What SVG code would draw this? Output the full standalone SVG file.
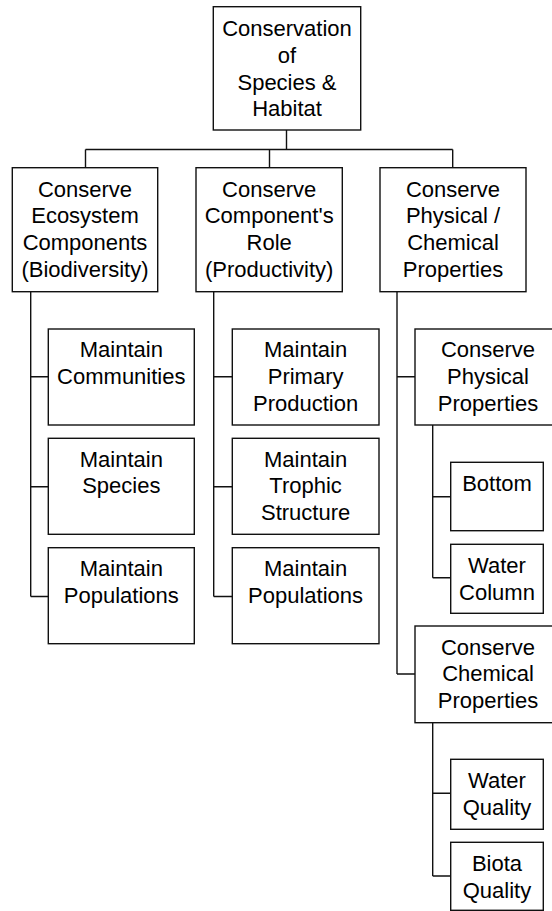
<svg xmlns="http://www.w3.org/2000/svg" width="552" height="911" viewBox="0 0 552 911">
<style>
.box{fill:#fff;stroke:#111;stroke-width:1.4}
.ln{fill:none;stroke:#111;stroke-width:1.4}
text{font-family:"Liberation Sans",Arial,sans-serif;font-size:22px;fill:#000;text-anchor:middle}
</style>
<rect width="552" height="911" fill="#fff"/>
<g id="connectors">
<path class="ln" d="M286.5,130 V149.5 M85.5,149.5 H452.7 M85.5,149.5 V167.7 M269.5,149.5 V167.7 M452.7,149.5 V167.7"/>
<path class="ln" d="M30.7,291.7 V596.5 M30.7,376.7 H48.3 M30.7,486.7 H48.3 M30.7,596.5 H48.3"/>
<path class="ln" d="M213.7,291.7 V596.5 M213.7,376.7 H232.3 M213.7,486.7 H232.3 M213.7,596.5 H232.3"/>
<path class="ln" d="M397,291.7 V674 M397,376.7 H415 M397,674 H415"/>
<path class="ln" d="M432.7,425 V577.7 M432.7,496.7 H450.7 M432.7,577.7 H450.7"/>
<path class="ln" d="M432.7,722.7 V876 M432.7,793.3 H450.7 M432.7,876 H450.7"/>
</g>
<g id="root">
<rect class="box" x="213.3" y="6.7" width="147.4" height="123.3"/>
<text x="287" y="36.2">Conservation</text>
<text x="287" y="62.9">of</text>
<text x="287" y="89.6">Species &amp;</text>
<text x="287" y="116.3">Habitat</text>
</g>
<g id="biodiversity">
<rect class="box" x="12.3" y="167.7" width="145.4" height="124"/>
<text x="85" y="196.5">Conserve</text>
<text x="85" y="223.3">Ecosystem</text>
<text x="85" y="250">Components</text>
<text x="85" y="276.8">(Biodiversity)</text>
</g>
<g id="productivity">
<rect class="box" x="196" y="167.7" width="146.3" height="124"/>
<text x="269.2" y="196.5">Conserve</text>
<text x="269.2" y="223.3">Component's</text>
<text x="269.2" y="250">Role</text>
<text x="269.2" y="276.8">(Productivity)</text>
</g>
<g id="physchem">
<rect class="box" x="380" y="167.7" width="146" height="124"/>
<text x="453" y="196.5">Conserve</text>
<text x="453" y="223.3">Physical /</text>
<text x="453" y="250">Chemical</text>
<text x="453" y="276.8">Properties</text>
</g>
<g id="communities">
<rect class="box" x="48.3" y="329" width="146" height="96"/>
<text x="121.3" y="357.3">Maintain</text>
<text x="121.3" y="384">Communities</text>
</g>
<g id="species">
<rect class="box" x="48.3" y="438.3" width="146" height="96"/>
<text x="121.3" y="466.7">Maintain</text>
<text x="121.3" y="493.4">Species</text>
</g>
<g id="populations1">
<rect class="box" x="48.3" y="547.7" width="146" height="96"/>
<text x="121.3" y="576">Maintain</text>
<text x="121.3" y="602.7">Populations</text>
</g>
<g id="primary">
<rect class="box" x="232.3" y="329" width="146.7" height="96"/>
<text x="305.6" y="357.3">Maintain</text>
<text x="305.6" y="384">Primary</text>
<text x="305.6" y="410.7">Production</text>
</g>
<g id="trophic">
<rect class="box" x="232.3" y="438.3" width="146.7" height="96"/>
<text x="305.6" y="466.7">Maintain</text>
<text x="305.6" y="493.4">Trophic</text>
<text x="305.6" y="520.1">Structure</text>
</g>
<g id="populations2">
<rect class="box" x="232.3" y="547.7" width="146.7" height="96"/>
<text x="305.6" y="576">Maintain</text>
<text x="305.6" y="602.7">Populations</text>
</g>
<g id="physical">
<rect class="box" x="415" y="329" width="146" height="96"/>
<text x="488" y="357.3">Conserve</text>
<text x="488" y="384">Physical</text>
<text x="488" y="410.7">Properties</text>
</g>
<g id="bottom">
<rect class="box" x="450.7" y="462.3" width="92.6" height="68.4"/>
<text x="497" y="490.7">Bottom</text>
</g>
<g id="watercolumn">
<rect class="box" x="450.7" y="544.3" width="92.6" height="69"/>
<text x="497" y="573">Water</text>
<text x="497" y="599.8">Column</text>
</g>
<g id="chemical">
<rect class="box" x="415" y="626" width="146" height="96.7"/>
<text x="488" y="654.5">Conserve</text>
<text x="488" y="681.2">Chemical</text>
<text x="488" y="708">Properties</text>
</g>
<g id="waterquality">
<rect class="box" x="450.7" y="759.3" width="92.6" height="70"/>
<text x="497" y="787.8">Water</text>
<text x="497" y="814.5">Quality</text>
</g>
<g id="biotaquality">
<rect class="box" x="450.7" y="842.3" width="92.6" height="68"/>
<text x="497" y="870.8">Biota</text>
<text x="497" y="897.5">Quality</text>
</g>
</svg>
